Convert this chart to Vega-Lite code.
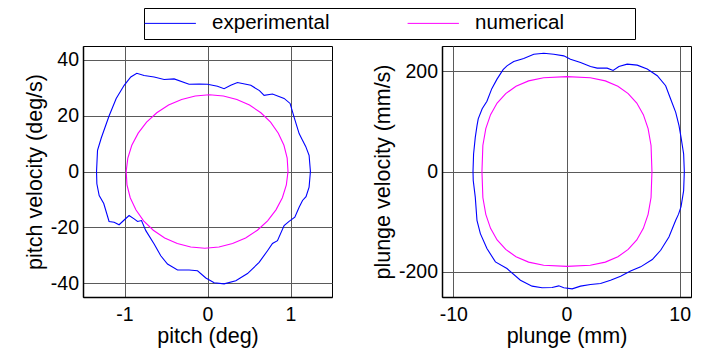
{
  "$schema": "https://vega.github.io/schema/vega-lite/v6.json",
  "background": "white",
  "padding": {"left": 23, "top": 7, "right": 5, "bottom": 5},
  "datasets": {
    "pitch": [
      {"series":"experimental","i":0,"x":-1.337,"y":0},
      {"series":"experimental","i":1,"x":-1.325,"y":7.6},
      {"series":"experimental","i":2,"x":-1.28,"y":12.0},
      {"series":"experimental","i":3,"x":-1.215,"y":17.5},
      {"series":"experimental","i":4,"x":-1.185,"y":20.0},
      {"series":"experimental","i":5,"x":-1.10,"y":26.2},
      {"series":"experimental","i":6,"x":-1.004,"y":30.9},
      {"series":"experimental","i":7,"x":-0.924,"y":33.9},
      {"series":"experimental","i":8,"x":-0.852,"y":35.2},
      {"series":"experimental","i":9,"x":-0.764,"y":34.4},
      {"series":"experimental","i":10,"x":-0.643,"y":33.9},
      {"series":"experimental","i":11,"x":-0.523,"y":33.0},
      {"series":"experimental","i":12,"x":-0.402,"y":33.2},
      {"series":"experimental","i":13,"x":-0.222,"y":31.3},
      {"series":"experimental","i":14,"x":-0.1,"y":31.4},
      {"series":"experimental","i":15,"x":0.0,"y":31.3},
      {"series":"experimental","i":16,"x":0.12,"y":30.6},
      {"series":"experimental","i":17,"x":0.2,"y":29.7},
      {"series":"experimental","i":18,"x":0.28,"y":30.9},
      {"series":"experimental","i":19,"x":0.361,"y":31.9},
      {"series":"experimental","i":20,"x":0.522,"y":30.9},
      {"series":"experimental","i":21,"x":0.626,"y":29.0},
      {"series":"experimental","i":22,"x":0.682,"y":27.3},
      {"series":"experimental","i":23,"x":0.783,"y":27.8},
      {"series":"experimental","i":24,"x":0.923,"y":26.2},
      {"series":"experimental","i":25,"x":0.995,"y":24.4},
      {"series":"experimental","i":26,"x":1.043,"y":19.5},
      {"series":"experimental","i":27,"x":1.104,"y":13.6},
      {"series":"experimental","i":28,"x":1.14,"y":11.5},
      {"series":"experimental","i":29,"x":1.183,"y":9.0},
      {"series":"experimental","i":30,"x":1.224,"y":5.8},
      {"series":"experimental","i":31,"x":1.24,"y":0},
      {"series":"experimental","i":32,"x":1.224,"y":-5.6},
      {"series":"experimental","i":33,"x":1.187,"y":-9.0},
      {"series":"experimental","i":34,"x":1.145,"y":-10.4},
      {"series":"experimental","i":35,"x":1.104,"y":-12.8},
      {"series":"experimental","i":36,"x":1.052,"y":-16.4},
      {"series":"experimental","i":37,"x":0.983,"y":-17.9},
      {"series":"experimental","i":38,"x":0.923,"y":-19.4},
      {"series":"experimental","i":39,"x":0.843,"y":-24.8},
      {"series":"experimental","i":40,"x":0.783,"y":-25.8},
      {"series":"experimental","i":41,"x":0.723,"y":-28.4},
      {"series":"experimental","i":42,"x":0.622,"y":-32.6},
      {"series":"experimental","i":43,"x":0.482,"y":-36.6},
      {"series":"experimental","i":44,"x":0.341,"y":-39.2},
      {"series":"experimental","i":45,"x":0.2,"y":-40.3},
      {"series":"experimental","i":46,"x":0.08,"y":-39.9},
      {"series":"experimental","i":47,"x":-0.02,"y":-38.2},
      {"series":"experimental","i":48,"x":-0.12,"y":-35.6},
      {"series":"experimental","i":49,"x":-0.222,"y":-35.3},
      {"series":"experimental","i":50,"x":-0.361,"y":-35.3},
      {"series":"experimental","i":51,"x":-0.482,"y":-33.2},
      {"series":"experimental","i":52,"x":-0.563,"y":-30.2},
      {"series":"experimental","i":53,"x":-0.643,"y":-26.0},
      {"series":"experimental","i":54,"x":-0.743,"y":-21.2},
      {"series":"experimental","i":55,"x":-0.795,"y":-17.6},
      {"series":"experimental","i":56,"x":-0.843,"y":-17.9},
      {"series":"experimental","i":57,"x":-0.884,"y":-17.0},
      {"series":"experimental","i":58,"x":-0.945,"y":-15.8},
      {"series":"experimental","i":59,"x":-1.004,"y":-17.4},
      {"series":"experimental","i":60,"x":-1.065,"y":-19.1},
      {"series":"experimental","i":61,"x":-1.125,"y":-18.2},
      {"series":"experimental","i":62,"x":-1.186,"y":-17.9},
      {"series":"experimental","i":63,"x":-1.25,"y":-11.5},
      {"series":"experimental","i":64,"x":-1.305,"y":-8.6},
      {"series":"experimental","i":65,"x":-1.333,"y":-4.4},
      {"series":"experimental","i":66,"x":-1.337,"y":0},
      {"series":"numerical","i":0,"x":0.970,"y":0},
      {"series":"numerical","i":1,"x":0.960,"y":4.79},
      {"series":"numerical","i":2,"x":0.921,"y":9.41},
      {"series":"numerical","i":3,"x":0.853,"y":13.75},
      {"series":"numerical","i":4,"x":0.760,"y":17.68},
      {"series":"numerical","i":5,"x":0.643,"y":21.07},
      {"series":"numerical","i":6,"x":0.506,"y":23.82},
      {"series":"numerical","i":7,"x":0.354,"y":25.85},
      {"series":"numerical","i":8,"x":0.192,"y":27.08},
      {"series":"numerical","i":9,"x":0.0225,"y":27.5},
      {"series":"numerical","i":10,"x":-0.148,"y":27.08},
      {"series":"numerical","i":11,"x":-0.312,"y":25.85},
      {"series":"numerical","i":12,"x":-0.469,"y":23.82},
      {"series":"numerical","i":13,"x":-0.611,"y":21.07},
      {"series":"numerical","i":14,"x":-0.734,"y":17.68},
      {"series":"numerical","i":15,"x":-0.835,"y":13.75},
      {"series":"numerical","i":16,"x":-0.912,"y":9.41},
      {"series":"numerical","i":17,"x":-0.960,"y":4.79},
      {"series":"numerical","i":18,"x":-0.980,"y":0},
      {"series":"numerical","i":19,"x":-0.970,"y":-4.79},
      {"series":"numerical","i":20,"x":-0.931,"y":-9.41},
      {"series":"numerical","i":21,"x":-0.863,"y":-13.75},
      {"series":"numerical","i":22,"x":-0.770,"y":-17.68},
      {"series":"numerical","i":23,"x":-0.653,"y":-21.07},
      {"series":"numerical","i":24,"x":-0.516,"y":-23.82},
      {"series":"numerical","i":25,"x":-0.364,"y":-25.85},
      {"series":"numerical","i":26,"x":-0.202,"y":-27.08},
      {"series":"numerical","i":27,"x":-0.0325,"y":-27.5},
      {"series":"numerical","i":28,"x":0.138,"y":-27.08},
      {"series":"numerical","i":29,"x":0.302,"y":-25.85},
      {"series":"numerical","i":30,"x":0.459,"y":-23.82},
      {"series":"numerical","i":31,"x":0.601,"y":-21.07},
      {"series":"numerical","i":32,"x":0.724,"y":-17.68},
      {"series":"numerical","i":33,"x":0.825,"y":-13.75},
      {"series":"numerical","i":34,"x":0.902,"y":-9.41},
      {"series":"numerical","i":35,"x":0.950,"y":-4.79},
      {"series":"numerical","i":36,"x":0.970,"y":0}
    ],
    "plunge": [
      {"series":"experimental","i":0,"x":-8.26,"y":0},
      {"series":"experimental","i":1,"x":-8.21,"y":35},
      {"series":"experimental","i":2,"x":-8.06,"y":68},
      {"series":"experimental","i":3,"x":-7.91,"y":91},
      {"series":"experimental","i":4,"x":-7.8,"y":105},
      {"series":"experimental","i":5,"x":-7.45,"y":125},
      {"series":"experimental","i":6,"x":-7.03,"y":140},
      {"series":"experimental","i":7,"x":-6.6,"y":165},
      {"series":"experimental","i":8,"x":-6.14,"y":184},
      {"series":"experimental","i":9,"x":-5.6,"y":203},
      {"series":"experimental","i":10,"x":-5.26,"y":210.5},
      {"series":"experimental","i":11,"x":-4.66,"y":219},
      {"series":"experimental","i":12,"x":-3.78,"y":225},
      {"series":"experimental","i":13,"x":-2.89,"y":233.7},
      {"series":"experimental","i":14,"x":-2.01,"y":235.7},
      {"series":"experimental","i":15,"x":-1.12,"y":233.7},
      {"series":"experimental","i":16,"x":-0.24,"y":230.4},
      {"series":"experimental","i":17,"x":0.35,"y":223.8},
      {"series":"experimental","i":18,"x":1.24,"y":217.1},
      {"series":"experimental","i":19,"x":2.12,"y":209.1},
      {"series":"experimental","i":20,"x":2.71,"y":205.9},
      {"series":"experimental","i":21,"x":3.59,"y":205.9},
      {"series":"experimental","i":22,"x":4.12,"y":201.2},
      {"series":"experimental","i":23,"x":4.63,"y":209.1},
      {"series":"experimental","i":24,"x":5.36,"y":213.9},
      {"series":"experimental","i":25,"x":6.25,"y":211.9},
      {"series":"experimental","i":26,"x":7.13,"y":204},
      {"series":"experimental","i":27,"x":8.02,"y":190.7},
      {"series":"experimental","i":28,"x":8.76,"y":170.8},
      {"series":"experimental","i":29,"x":9.2,"y":144.4},
      {"series":"experimental","i":30,"x":9.65,"y":117.8},
      {"series":"experimental","i":31,"x":9.94,"y":91.4},
      {"series":"experimental","i":32,"x":10.12,"y":68},
      {"series":"experimental","i":33,"x":10.35,"y":35},
      {"series":"experimental","i":34,"x":10.41,"y":0},
      {"series":"experimental","i":35,"x":10.35,"y":-38},
      {"series":"experimental","i":36,"x":10.12,"y":-70},
      {"series":"experimental","i":37,"x":9.9,"y":-85},
      {"series":"experimental","i":38,"x":9.65,"y":-97},
      {"series":"experimental","i":39,"x":9.05,"y":-130.5},
      {"series":"experimental","i":40,"x":8.32,"y":-156.9},
      {"series":"experimental","i":41,"x":7.58,"y":-175.4},
      {"series":"experimental","i":42,"x":6.55,"y":-190},
      {"series":"experimental","i":43,"x":5.66,"y":-198},
      {"series":"experimental","i":44,"x":4.78,"y":-208.5},
      {"series":"experimental","i":45,"x":3.89,"y":-216.5},
      {"series":"experimental","i":46,"x":3.01,"y":-223},
      {"series":"experimental","i":47,"x":2.12,"y":-225},
      {"series":"experimental","i":48,"x":1.24,"y":-228.4},
      {"series":"experimental","i":49,"x":0.5,"y":-233.7},
      {"series":"experimental","i":50,"x":-0.24,"y":-231.7},
      {"series":"experimental","i":51,"x":-0.68,"y":-227.8},
      {"series":"experimental","i":52,"x":-1.27,"y":-231},
      {"series":"experimental","i":53,"x":-2.16,"y":-231.7},
      {"series":"experimental","i":54,"x":-3.04,"y":-228.4},
      {"series":"experimental","i":55,"x":-4.07,"y":-216.5},
      {"series":"experimental","i":56,"x":-5.26,"y":-193.3},
      {"series":"experimental","i":57,"x":-6.28,"y":-180.1},
      {"series":"experimental","i":58,"x":-7.03,"y":-153.5},
      {"series":"experimental","i":59,"x":-7.61,"y":-123.7},
      {"series":"experimental","i":60,"x":-7.91,"y":-97.3},
      {"series":"experimental","i":61,"x":-8.06,"y":-51},
      {"series":"experimental","i":62,"x":-8.24,"y":-18},
      {"series":"experimental","i":63,"x":-8.26,"y":0},
      {"series":"numerical","i":0,"x":7.55,"y":0},
      {"series":"numerical","i":1,"x":7.47,"y":51.8},
      {"series":"numerical","i":2,"x":7.21,"y":85.4},
      {"series":"numerical","i":3,"x":6.79,"y":113.2},
      {"series":"numerical","i":4,"x":6.21,"y":136.3},
      {"series":"numerical","i":5,"x":5.45,"y":155.2},
      {"series":"numerical","i":6,"x":4.54,"y":169.9},
      {"series":"numerical","i":7,"x":3.43,"y":180.5},
      {"series":"numerical","i":8,"x":2.10,"y":186.9},
      {"series":"numerical","i":9,"x":0.04,"y":189},
      {"series":"numerical","i":10,"x":-2.02,"y":186.9},
      {"series":"numerical","i":11,"x":-3.35,"y":180.5},
      {"series":"numerical","i":12,"x":-4.46,"y":169.9},
      {"series":"numerical","i":13,"x":-5.37,"y":155.2},
      {"series":"numerical","i":14,"x":-6.13,"y":136.3},
      {"series":"numerical","i":15,"x":-6.71,"y":113.2},
      {"series":"numerical","i":16,"x":-7.13,"y":85.4},
      {"series":"numerical","i":17,"x":-7.39,"y":51.8},
      {"series":"numerical","i":18,"x":-7.47,"y":0},
      {"series":"numerical","i":19,"x":-7.39,"y":-51.8},
      {"series":"numerical","i":20,"x":-7.13,"y":-85.4},
      {"series":"numerical","i":21,"x":-6.71,"y":-113.2},
      {"series":"numerical","i":22,"x":-6.13,"y":-136.3},
      {"series":"numerical","i":23,"x":-5.37,"y":-155.2},
      {"series":"numerical","i":24,"x":-4.46,"y":-169.9},
      {"series":"numerical","i":25,"x":-3.35,"y":-180.5},
      {"series":"numerical","i":26,"x":-2.02,"y":-186.9},
      {"series":"numerical","i":27,"x":0.04,"y":-189},
      {"series":"numerical","i":28,"x":2.10,"y":-186.9},
      {"series":"numerical","i":29,"x":3.43,"y":-180.5},
      {"series":"numerical","i":30,"x":4.54,"y":-169.9},
      {"series":"numerical","i":31,"x":5.45,"y":-155.2},
      {"series":"numerical","i":32,"x":6.21,"y":-136.3},
      {"series":"numerical","i":33,"x":6.79,"y":-113.2},
      {"series":"numerical","i":34,"x":7.21,"y":-85.4},
      {"series":"numerical","i":35,"x":7.47,"y":-51.8},
      {"series":"numerical","i":36,"x":7.55,"y":0}
    ]
  },
  "spacing": 38,
  "hconcat": [
    {
      "width": 249,
      "height": 251,
      "data": {"name": "pitch"},
      "mark": {"type": "line", "strokeWidth": 1.1, "clip": true},
      "encoding": {
        "x": {"field": "x", "type": "quantitative", "scale": {"domain": [-1.5, 1.5], "nice": false, "zero": false}, "axis": {"values": [-1, 0, 1], "title": "pitch (deg)"}},
        "y": {"field": "y", "type": "quantitative", "scale": {"domain": [-45, 45], "nice": false, "zero": false}, "axis": {"values": [-40, -20, 0, 20, 40], "title": "pitch velocity (deg/s)"}},
        "color": {"field": "series", "type": "nominal", "scale": {"domain": ["experimental", "numerical"], "range": ["#0000ff", "#ff00ff"]},
          "legend": {"orient": "none", "legendX": 61, "legendY": -38, "direction": "horizontal", "columns": 2, "gridAlign": "all", "title": null}},
        "order": {"field": "i", "type": "quantitative"}
      }
    },
    {
      "width": 249,
      "height": 251,
      "data": {"name": "plunge"},
      "mark": {"type": "line", "strokeWidth": 1.1, "clip": true},
      "encoding": {
        "x": {"field": "x", "type": "quantitative", "scale": {"domain": [-11, 11], "nice": false, "zero": false}, "axis": {"values": [-10, 0, 10], "title": "plunge (mm)"}},
        "y": {"field": "y", "type": "quantitative", "scale": {"domain": [-250, 250], "nice": false, "zero": false}, "axis": {"values": [-200, 0, 200], "title": "plunge velocity (mm/s)"}},
        "color": {"field": "series", "type": "nominal", "scale": {"domain": ["experimental", "numerical"], "range": ["#0000ff", "#ff00ff"]}},
        "order": {"field": "i", "type": "quantitative"}
      }
    }
  ],
  "resolve": {"scale": {"color": "shared", "x": "independent", "y": "independent"}, "legend": {"color": "shared"}},
  "config": {
    "view": {"stroke": "#000000", "strokeWidth": 1},
    "axis": {
      "labelFont": "Liberation Sans",
      "labelFontSize": 19.5,
      "labelColor": "#000000",
      "titleFont": "Liberation Sans",
      "titleFontSize": 21.5,
      "titleFontWeight": "normal",
      "titleColor": "#000000",
      "grid": true,
      "gridColor": "#5a5a5a",
      "gridWidth": 1,
      "ticks": false,
      "domain": true,
      "domainColor": "#000000",
      "domainWidth": 1.5,
      "labelExpr": "'' + datum.value",
      "labelFlush": false,
      "labelOverlap": false
    },
    "axisX": {"labelPadding": 8, "titlePadding": 2},
    "axisY": {"labelPadding": 4.5, "titlePadding": 4},
    "legend": {
      "symbolType": "M20.45,0M-2.7,0H2.7",
      "symbolSize": 361,
      "symbolStrokeWidth": 1,
      "symbolOffset": 11,
      "labelFont": "Liberation Sans",
      "labelFontSize": 20.5,
      "labelColor": "#000000",
      "labelOffset": 31.6,
      "columnPadding": 38,
      "padding": 5,
      "strokeColor": "#000000",
      "fillColor": "#ffffff",
      "labelLimit": 300
    }
  }
}
